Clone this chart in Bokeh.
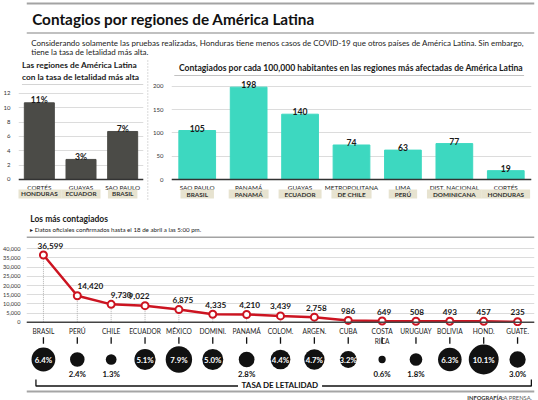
import numpy as np
from bokeh.plotting import figure
from bokeh.models import Range1d, FactorRange, FixedTicker, Span, LinearAxis, Grid, NumeralTickFormatter
from bokeh.layouts import column, row
from bokeh.embed import file_html
from bokeh.resources import INLINE
from bokeh.core.properties import value

FONT_NAME = "Lato"
FONT = value(FONT_NAME)

# ---------------- data ----------------
lethal_regions = ["CORTÉS", "GUAYAS", "SAO PAULO"]
lethal_countries = ["HONDURAS", "ECUADOR", "BRASIL"]
lethal_rates = [10.7, 2.8, 6.7]
lethal_labels = ["11%", "3%", "7%"]
lethal_ticks = [0, 2, 4, 6, 8, 10, 12]

inc_regions = ["SAO PAULO", "PANAMÁ", "GUAYAS", "METROPOLITANA", "LIMA", "DIST. NACIONAL", "CORTÉS"]
inc_countries = ["BRASIL", "PANAMÁ", "ECUADOR", "DE CHILE", "PERÚ", "DOMINICANA", "HONDURAS"]
inc_values = [105, 198, 140, 74, 63, 77, 19]
inc_ticks = [0, 50, 100, 150, 200]

countries = ["BRASIL", "PERÚ", "CHILE", "ECUADOR", "MÉXICO", "DOMINI.", "PANAMÁ", "COLOM.",
             "ARGEN.", "CUBA", "COSTA\nRICA", "URUGUAY", "BOLIVIA", "HOND.", "GUATE."]
cases = [36599, 14420, 9730, 9022, 6875, 4335, 4210, 3439, 2758, 986, 649, 508, 493, 457, 235]
case_ticks = [0, 5000, 10000, 15000, 20000, 25000, 30000, 35000, 40000]
fatality = [6.4, 2.4, 1.3, 5.1, 7.9, 5.0, 2.8, 4.4, 4.7, 3.2, 0.6, 1.8, 6.3, 10.1, 3.0]

# label nudges (style only)
case_label_dx = [7, 13, 10, -6, 4, 3, 3, 0, 2, 0, 2, 1, 0, 0, 0]

DARK = "#4b4b47"
TEAL = "#3dd8c0"
RED = "#cc1421"
BEIGE = "#e7e3d0"
INK = "#1a1a1a"
GRID = "#dcdcdc"


def base(w, h, **kw):
    p = figure(width=w, height=h, output_backend="svg", toolbar_location=None,
               x_axis_location=None, y_axis_location=None, title=None, **kw)
    p.center = []
    p.outline_line_color = None
    p.background_fill_color = "white"
    p.border_fill_color = "white"
    return p


def canvas(w, h):
    return base(w, h, x_range=Range1d(0, w), y_range=Range1d(h, 0),
                min_border_left=0, min_border_right=0, min_border_top=0, min_border_bottom=0)


def txt(p, x, y, s, size, bold=False, color=INK, align="left", baseline="middle", **kw):
    p.text(x=x, y=y, text=s, text_font=FONT, text_font_size=f"{size}px",
           text_font_style="bold" if bold else "normal", text_color=color,
           text_align=align, text_baseline=baseline, **kw)


def yaxis(p, ticks, size=6, standoff=2, fmt=None):
    ax = LinearAxis(ticker=FixedTicker(ticks=ticks), axis_line_color=None,
                    major_tick_line_color=None, minor_tick_line_color=None,
                    major_label_text_font=FONT_NAME,
                    major_label_text_font_size=f"{size}px", major_label_text_color="#333",
                    major_label_standoff=standoff)
    if fmt:
        ax.formatter = fmt
    p.add_layout(ax, "left")
    p.add_layout(Grid(dimension=1, ticker=FixedTicker(ticks=ticks), grid_line_color=GRID))


# ---------------- header (y 0..58) ----------------
hdr = canvas(538, 58)
hdr.segment(x0=[0], y0=[3], x1=[538], y1=[3], line_color="#a3a3a3", line_width=2)
txt(hdr, [6], [18.5], ["Contagios por regiones de América Latina"], 15.3, bold=True, color="#111")
hdr.segment(x0=[0], y0=[32.5], x1=[538], y1=[32.5], line_color="#ababab", line_width=1.5)
txt(hdr, [5], [42], ["Considerando solamente las pruebas realizadas, Honduras tiene menos casos de COVID-19 que otros países de América Latina. Sin embargo,"], 8, color="#222")
txt(hdr, [5], [51.5], ["tiene la tasa de letalidad más alta."], 8, color="#222")

# ---------------- left bar chart (x 0..145) ----------------
lh = canvas(145, 27)
txt(lh, [4], [6.2], ["Las regiones de América Latina"], 8.4, bold=True)
txt(lh, [4], [18], ["con la tasa de letalidad más alta"], 8.4, bold=True)
lh.segment(x0=[4], y0=[26.5], x1=[145], y1=[26.5], line_color="#a8a8a8", line_width=1)

pl = base(145, 118, x_range=FactorRange(*lethal_regions), y_range=Range1d(-3.349, 13.116),
          min_border_left=10, min_border_right=2, min_border_top=0, min_border_bottom=0)
yaxis(pl, lethal_ticks)
pl.vbar(x=lethal_regions, top=lethal_rates, width=0.72, color=DARK)
pl.add_layout(Span(location=0, dimension="width", line_color="#333", line_width=1.5))
txt(pl, lethal_regions, lethal_rates, lethal_labels, 8.6, bold=True, align="center",
    baseline="alphabetic", y_offset=-2.5)
txt(pl, lethal_regions, [0] * 3, lethal_regions, 6.4, align="center", y_offset=7.7, color="#222")
txt(pl, lethal_regions, [0] * 3, lethal_countries, 6.4, bold=True, align="center", y_offset=14.5,
    color="#333", background_fill_color=BEIGE, padding=dict(x=4, y=1))

# ---------------- separator ----------------
sep = canvas(5, 145)
sep.segment(x0=[2.3], y0=[2], x1=[2.3], y1=[142], line_color="#b5b5b5", line_width=1, line_dash="1 2")

# ---------------- right bar chart (x 150..538) ----------------
rh = canvas(388, 18)
txt(rh, [8], [9], ["Contagiados por cada 100,000 habitantes en las regiones más afectadas de América Latina"], 8.6, bold=True)
rh.segment(x0=[3], y0=[17.3], x1=[380], y1=[17.3], line_color="#a8a8a8", line_width=1)

pr = base(388, 127, x_range=FactorRange(*inc_regions), y_range=Range1d(-51.4, 220.8),
          min_border_left=15, min_border_right=7, min_border_top=0, min_border_bottom=0)
yaxis(pr, inc_ticks)
pr.vbar(x=inc_regions, top=inc_values, width=0.714, color=TEAL)
pr.add_layout(Span(location=0, dimension="width", line_color="#333", line_width=1.5))
txt(pr, inc_regions, inc_values, [str(v) for v in inc_values], 8.6, bold=True, align="center",
    baseline="alphabetic", y_offset=-2.5)
txt(pr, inc_regions, [0] * 7, inc_regions, 6.4, align="center", y_offset=7.7, color="#222")
txt(pr, inc_regions, [0] * 7, inc_countries, 6.4, bold=True, align="center", y_offset=14.5,
    color="#333", background_fill_color=BEIGE, padding=dict(x=6, y=1))

# ---------------- line chart (y 203..326) ----------------
lnh = canvas(538, 35)
txt(lnh, [4], [15], ["Los más contagiados"], 8.5, bold=True)
txt(lnh, [4], [26], ["▸ Datos oficiales confirmados hasta el 18 de abril a las 5:00 pm."], 6.2, color="#222")
lnh.segment(x0=[0], y0=[34], x1=[538], y1=[34], line_color="#a3a3a3", line_width=2)

pc = base(538, 88, x_range=FactorRange(*countries), y_range=Range1d(-2343, 45613),
          min_border_left=18, min_border_right=4, min_border_top=0, min_border_bottom=0)
yaxis(pc, case_ticks, size=5.6, standoff=0, fmt=NumeralTickFormatter(format="0,0"))
pc.segment(x0=countries, y0=[0] * 15, x1=countries, y1=cases, line_color="#b0b0b0",
           line_width=1, line_dash="1 1")
pc.add_layout(Span(location=0, dimension="width", line_color="#444", line_width=1.5))
pc.line(x=countries, y=cases, line_color=RED, line_width=2.5)
pc.scatter(x=countries, y=cases, size=7, fill_color="white", line_color=RED, line_width=2)
txt(pc, countries, cases, [f"{v:,}" for v in cases], 8.2, bold=True, align="center",
    y_offset=-9.5, x_offset=case_label_dx)

# ---------------- bubbles (y 326..379) ----------------
pb = base(538, 53, x_range=FactorRange(*countries), y_range=Range1d(53, 0),
          min_border_left=18, min_border_right=4, min_border_top=0, min_border_bottom=0)
txt(pb, countries, [0.9] * 15, countries, 6.6, align="center", baseline="top", color="#222",
    text_line_height=1.15)
pb.segment(x0=countries, y0=[10.7] * 15, x1=countries, y1=[17.3] * 15, line_color="#111", line_width=1.3)
sizes = 9.4 * np.sqrt(np.array(fatality))
pb.scatter(x=countries, y=[33] * 15, size=sizes, fill_color="#111", line_color=None)
inside = [i for i, v in enumerate(fatality) if v >= 3.1]
outside = [i for i, v in enumerate(fatality) if v < 3.1]
txt(pb, [countries[i] for i in inside], [33] * len(inside),
    [f"{fatality[i]:.1f}%" for i in inside], 7.8, bold=True, color="white", align="center")
txt(pb, [countries[i] for i in outside], [47.8] * len(outside),
    [f"{fatality[i]:.1f}%" for i in outside], 7.8, bold=True, color="#111", align="center")

# ---------------- footer (y 379..400) ----------------
ft = canvas(538, 21)
ft.multi_line(xs=[[10, 10, 224], [313, 534.7, 534.7]], ys=[[-1, 6.5, 6.5], [6.5, 6.5, -1]],
              line_color="#111", line_width=1.3)
txt(ft, [268.5], [5.0], ["TASA DE LETALIDAD"], 8, bold=True, align="center", color="#111")
ft.segment(x0=[0], y0=[12], x1=[538], y1=[12], line_color="#a5a5a5", line_width=2)
txt(ft, [505.5], [17.5], ["INFOGRAFÍA:"], 5.8, bold=True, align="right", color="#333")
txt(ft, [535.5], [17.5], ["LA PRENSA."], 5.8, align="right", color="#555")

layout = column(
    hdr,
    row(column(lh, pl), sep, column(rh, pr)),
    lnh, pc, pb, ft,
)

open("out.html", "w").write(file_html(layout, INLINE))
